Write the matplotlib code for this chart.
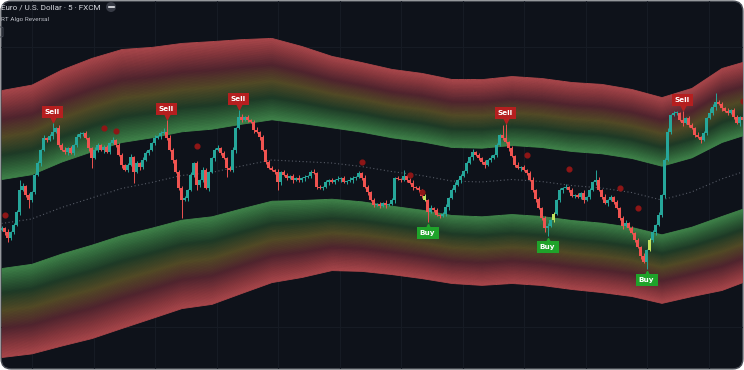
import numpy as np
import matplotlib
matplotlib.use("Agg")
import matplotlib.pyplot as plt
from matplotlib.patches import FancyBboxPatch, Ellipse
from matplotlib.lines import Line2D
from matplotlib.colors import LinearSegmentedColormap

# ---------------- data (price units) ----------------
close = [142, 138, 132, 138, 145, 158, 180, 184, 175, 170,
         178, 195, 207, 220, 232, 230, 234, 238, 242, 225,
         220, 218, 222, 217, 225, 233, 236, 237, 232, 222,
         212, 220, 225, 220, 223, 218, 227, 230, 225, 215,
         205, 200, 205, 213, 198, 207, 203, 210, 217, 220,
         227, 232, 234, 237, 238, 232, 220, 210, 198, 182,
         170, 172, 180, 195, 207, 185, 190, 200, 182, 198,
         212, 220, 222, 217, 212, 202, 200, 220, 242, 253,
         250, 253, 250, 248, 240, 238, 233, 220, 208, 202,
         200, 198, 188, 198, 195, 192, 194, 190, 192, 190,
         192, 193, 194, 198, 197, 183, 182, 183, 188, 190,
         188, 190, 191, 192, 188, 189, 190, 192, 193, 197,
         192, 183, 178, 170, 165, 166, 164, 167, 165, 166,
         170, 192, 191, 190, 194, 190, 187, 183, 182, 180,
         174, 170, 158, 162, 160, 155, 154, 156, 163, 172,
         180, 185, 190, 194, 199, 207, 213, 218, 215, 212,
         208, 205, 210, 212, 215, 225, 235, 232, 228, 222,
         214, 205, 202, 203, 200, 197, 190, 180, 171, 162,
         152, 142, 144, 150, 156, 170, 180, 182, 183, 180,
         174, 175, 173, 177, 170, 173, 180, 188, 190, 180,
         173, 167, 170, 173, 168, 162, 152, 144, 147, 142,
         137, 130, 123, 114, 108, 120, 130, 138, 145, 155,
         175, 210, 238, 255, 257, 257, 250, 247, 252, 245,
         242, 235, 233, 230, 237, 252, 257, 263, 268, 266,
         262, 259, 257, 260, 253, 247, 253, 250]
first_open = 140

wick_hi_digits = ("2131221312" "1221312213" "2312132121" "1321221312" "2123121321"
                  "1312213212" "2213121321" "1231212312" "3121231212" "2131221213"
                  "1212312121" "2131213212" "1321212131" "2121312312" "1213121231"
                  "2312121312" "1213121321" "2131212312" "1231212131" "2121312123"
                  "1312121231" "2121312213" "1231221312" "2131212312" "21312213")
wick_lo_digits = ("1312213121" "2213121312" "1231221213" "2121312121" "3121213212"
                  "1213121312" "2131212213" "1312121231" "2121313121" "1213121312"
                  "2312121213" "1213121321" "2131212131" "1312121312" "2131212123"
                  "1213121312" "2312121213" "1213121231" "2131212312" "1212312131"
                  "2131212312" "1213121231" "2312121312" "1213121231" "31212131")
spike_hi = {6: 10, 17: 9, 54: 4, 55: 12, 79: 7, 134: 6, 167: 10, 168: 14,
            198: 10, 222: 4, 227: 9, 236: 5, 238: 9}
spike_lo = {2: 4, 9: 8, 30: 10, 44: 11, 60: 18, 65: 5, 75: 9, 92: 8,
            142: 10, 181: 4, 182: 8, 215: 7}

highlight_bars = [141, 184, 216]

# band basis and deviation, sampled every 10 bars
band_idx = [0, 10, 20, 30, 40, 50, 60, 70, 80, 90, 100, 110, 120,
            130, 140, 150, 160, 170, 180, 190, 200, 210, 220, 230, 240, 247]
basis = [146.5, 151, 162.5, 172, 181.5, 187.5, 194.5, 197.5, 204, 210, 208.5,
         207, 203.5, 198.5, 194.5, 189, 188, 190.5, 188.5, 184.5, 182, 177.5,
         170, 178, 191, 198]
deviation = [44.5, 44.8, 46, 46.7, 46.5, 45.2, 44.2, 43.8, 42.3, 40.7, 38.5,
             35.7, 34.8, 34.2, 34.2, 34, 34.3, 34.5, 34.5, 34.5, 34.7, 34.5,
             34.3, 34.7, 37, 36.7]
inner_mult = 1.0
outer_mult = 3.0

sell_bars = [17, 55, 79, 168, 227]
buy_bars = [142, 182, 215]

dot_bars = [1, 34, 38, 65, 120, 136, 140, 175, 189, 206, 212, 247]
dot_prices = [155, 242, 239, 224, 208, 195, 178, 215, 201, 182, 162, 269]

title_text = "Euro / U.S. Dollar · 5 · FXCM"
indicator_text = "RT Algo Reversal"

# ---------------- styling ----------------
BG = "#0e121a"
UP = "#26a69a"
DN = "#ef5350"
HL = "#c2e35e"
SELL_C = "#b51f1f"
BUY_C = "#1fa32a"

W, H = 744, 370
fig = plt.figure(figsize=(W / 100, H / 100), dpi=100, facecolor="white")
ax = fig.add_axes([0, 0, 1, 1])
ax.set_facecolor("none")
ax.axis("off")
ax.set_zorder(1)

n = len(close)
ax.set_xlim(-0.5, n - 0.5)
ax.set_ylim(0, 370)

bg = FancyBboxPatch((0.0015, 0.003), 0.997, 0.994,
                    boxstyle="round,pad=0,rounding_size=0.0135",
                    mutation_aspect=W / H, transform=fig.transFigure,
                    facecolor=BG, edgecolor="#4a4e56", linewidth=1.0, zorder=-1)
fig.patches.append(bg)

# faint grid
for gx in np.arange(10.17, n, 20.5):
    ax.axvline(gx, color="#161b24", lw=0.8, zorder=0.5)
for gy in [43, 323]:
    ax.axhline(gy, color="#161b24", lw=0.8, zorder=0.5)

# gradient bands
cmap = LinearSegmentedColormap.from_list("band", [
    (0.00, (64/255, 132/255, 74/255)),
    (0.12, (48/255, 100/255, 58/255)),
    (0.28, (30/255, 58/255, 38/255)),
    (0.48, (82/255, 74/255, 38/255)),
    (0.68, (80/255, 36/255, 46/255)),
    (0.86, (132/255, 54/255, 60/255)),
    (1.00, (168/255, 70/255, 74/255)),
])
bx = np.array(band_idx, dtype=float)
bb = np.array(basis, dtype=float)
bd = np.array(deviation, dtype=float)
nl = 60
span = outer_mult - inner_mult
for k in range(nl):
    s0, s1 = k / nl, (k + 1) / nl
    col = cmap((k + 0.5) / nl)
    m0 = inner_mult + span * s0
    m1 = inner_mult + span * s1
    ax.fill_between(bx, bb + bd * m0, bb + bd * m1, color=col, lw=0.6,
                    edgecolor=col, zorder=1)
    ax.fill_between(bx, bb - bd * m1, bb - bd * m0, color=col, lw=0.6,
                    edgecolor=col, zorder=1)

ax.plot(bx, bb, color="#555a65", lw=0.8, ls=(0, (1, 2.2)), zorder=2)

# candles
c = np.array(close, dtype=float)
o = np.concatenate([[first_open], c[:-1]])
wu = np.array([int(ch) for ch in wick_hi_digits], dtype=float)
wd = np.array([int(ch) for ch in wick_lo_digits], dtype=float)
for i, v in spike_hi.items():
    wu[i] = v
for i, v in spike_lo.items():
    wd[i] = v
hi = np.maximum(o, c) + wu
lo = np.minimum(o, c) - wd
x = np.arange(n)
cols = [UP if c[i] >= o[i] else DN for i in range(n)]
for i in highlight_bars:
    cols[i] = HL
ax.vlines(x, lo, hi, colors=cols, lw=0.7, zorder=3)
body_h = np.maximum(np.abs(c - o), 0.9)
ax.bar(x, body_h, bottom=np.minimum(o, c), width=0.72, color=cols,
       linewidth=0, zorder=3.5)

# small signal dots
ax.plot(dot_bars, dot_prices, ls="none", marker="o", ms=3.4,
        color="#8e1616", mec="#8e1616", zorder=4)

# Sell / Buy labels
for i in sell_bars:
    ax.plot(i, hi[i] + 4.5, marker="v", ms=4, color=SELL_C, ls="none", zorder=5)
    ax.text(i, hi[i] + 11, "Sell", color="white", fontsize=5.2, fontweight="bold",
            ha="center", va="center", family="DejaVu Sans", zorder=6,
            bbox=dict(boxstyle="square,pad=0.45", fc=SELL_C, ec="none"))
for i in buy_bars:
    ax.plot(i, lo[i] - 4.5, marker="^", ms=4, color=BUY_C, ls="none", zorder=5)
    ax.text(i, lo[i] - 11, "Buy", color="white", fontsize=5.2, fontweight="bold",
            ha="center", va="center", family="DejaVu Sans", zorder=6,
            bbox=dict(boxstyle="square,pad=0.45", fc=BUY_C, ec="none"))

# clip everything to the rounded panel
for art in ax.get_children():
    try:
        art.set_clip_path(bg)
    except Exception:
        pass

# header texts
fig.text(1 / W, 1 - 7.5 / H, title_text, color="#d6d8de", fontsize=5.9,
         family="Roboto", ha="left", va="center", zorder=10)
btn = Ellipse((111 / W, 1 - 7 / H), 10 / W, 10 / H, transform=fig.transFigure,
              facecolor="#363a44", edgecolor="none", zorder=10)
fig.patches.append(btn)
fig.lines.append(Line2D([108.5 / W, 113.5 / W], [1 - 7 / H, 1 - 7 / H],
                        transform=fig.transFigure, color="#e6e8ec", lw=1.2,
                        zorder=11))
fig.text(1 / W, 1 - 19.5 / H, indicator_text, color="#b8bbc3", fontsize=4.6,
         family="Roboto", ha="left", va="center", zorder=10)
edge = FancyBboxPatch((-6 / W, 1 - 37 / H), 9 / W, 10 / H,
                      boxstyle="round,pad=0,rounding_size=0.003",
                      transform=fig.transFigure, facecolor="none",
                      edgecolor="#444852", linewidth=0.7, zorder=10)
fig.patches.append(edge)

fig.savefig("out.png", dpi=100, facecolor="white")
